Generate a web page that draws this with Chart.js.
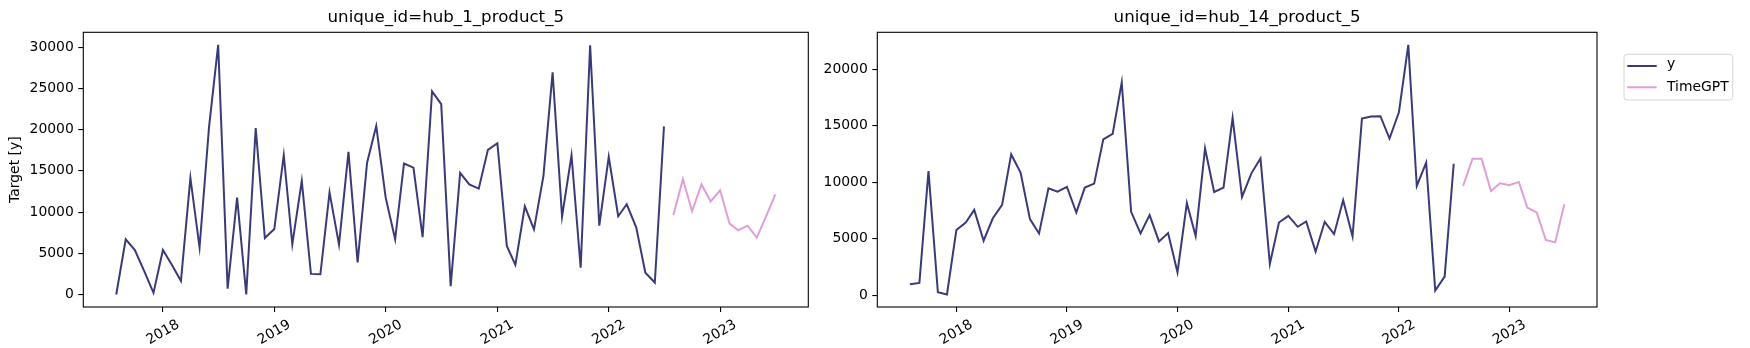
<!DOCTYPE html>
<html><head><meta charset="utf-8">
<script src="https://cdn.jsdelivr.net/npm/chart.js@4.4.0/dist/chart.umd.min.js"></script>
<style>
html,body{margin:0;padding:0;background:#fff;width:1750px;height:348px;overflow:hidden}
canvas{position:absolute;top:0}
#c1{left:0}
#c2{left:812px}
</style></head><body>
<canvas id="c1" width="840" height="348"></canvas>
<canvas id="c2" width="938" height="348"></canvas>
<script>
// ---- data ----
const historyMonths = [
 '2017-08','2017-09','2017-10','2017-11','2017-12',
 '2018-01','2018-02','2018-03','2018-04','2018-05','2018-06','2018-07','2018-08','2018-09','2018-10','2018-11','2018-12',
 '2019-01','2019-02','2019-03','2019-04','2019-05','2019-06','2019-07','2019-08','2019-09','2019-10','2019-11','2019-12',
 '2020-01','2020-02','2020-03','2020-04','2020-05','2020-06','2020-07','2020-08','2020-09','2020-10','2020-11','2020-12',
 '2021-01','2021-02','2021-03','2021-04','2021-05','2021-06','2021-07','2021-08','2021-09','2021-10','2021-11','2021-12',
 '2022-01','2022-02','2022-03','2022-04','2022-05','2022-06','2022-07'
];
const forecastMonths = [
 '2022-08','2022-09','2022-10','2022-11','2022-12',
 '2023-01','2023-02','2023-03','2023-04','2023-05','2023-06','2023-07'
];
const yearLabels = ['2018','2019','2020','2021','2022','2023'];
const hub1YTicks = [0, 5000, 10000, 15000, 20000, 25000, 30000];
const hub14YTicks = [0, 5000, 10000, 15000, 20000];

const hub1Actual = [
 0, 6700, 5400, 2800, 200,
 5400, 3500, 1650, 14150, 5700, 20300, 30300, 700, 11750, 0, 20200, 6850,
 7950, 16900, 6100, 13800, 2500, 2450, 12400, 6050, 17300, 3900, 16000, 20450,
 11750, 6700, 15900, 15400, 6950, 24650, 23100, 1000, 14750, 13350, 12850, 17550,
 18350, 5900, 3600, 10700, 7900, 14400, 26950, 9450, 16900, 3250, 30250, 8350,
 16700, 9500, 10950, 8150, 2650, 1450, 20400
];
const hub1Forecast = [9650, 14000, 10100, 13350, 11300, 12650, 8600, 7800, 8350, 6900, 9500, 12150];

const hub14Actual = [
 970, 1090, 10980, 260, 60,
 5760, 6430, 7550, 4820, 6780, 7990, 12450, 10840, 6730, 5460, 9460, 9160,
 9580, 7310, 9520, 9870, 13780, 14270, 18830, 7370, 5460, 7080, 4760, 5490,
 2030, 8140, 5230, 12980, 9130, 9520, 15680, 8690, 10780, 12100, 2760, 6430,
 7020, 6050, 6520, 3850, 6490, 5400, 8400, 5200, 15630, 15800, 15830, 13860,
 16180, 22150, 9660, 11720, 410, 1650, 11630
];
const hub14Forecast = [9660, 12070, 12070, 9220, 9900, 9720, 10020, 7750, 7310, 4880, 4670, 8050];

const seriesNames = ['y', 'TimeGPT'];
const seriesColors = ['#393b79', '#de9ed6'];

// ---- helpers ----
const FONT = 'DejaVu Sans';
const toTs = s => { const [y, m] = s.split('-'); return Date.UTC(+y, +m - 1, 1); };

const framePlugin = {
  id: 'frame',
  afterDraw(chart) {
    const a = chart.chartArea, ctx = chart.ctx;
    ctx.save();
    ctx.strokeStyle = '#000';
    ctx.lineWidth = 1.1;
    ctx.strokeRect(a.left, a.top, a.right - a.left, a.bottom - a.top);
    // rotated x tick labels, centered on the tick (matplotlib style)
    const xs = chart.scales.x;
    ctx.fillStyle = '#000';
    ctx.font = '13.9px "' + FONT + '"';
    ctx.textAlign = 'center';
    ctx.textBaseline = 'middle';
    xs.ticks.forEach((t, i) => {
      const px = xs.getPixelForValue(t.value);
      ctx.save();
      ctx.translate(px, a.bottom + 25.5);
      ctx.rotate(-Math.PI / 6);
      ctx.fillText(yearLabels[i], 0, 0);
      ctx.restore();
    });
    ctx.restore();
  }
};

const legendPlugin = {
  id: 'customLegend',
  afterDraw(chart, args, opts) {
    if (!opts.show) return;
    const ctx = chart.ctx;
    const x0 = opts.x, y0 = opts.y, w = 108.7, h = 45.7;
    ctx.save();
    ctx.beginPath();
    ctx.roundRect(x0, y0, w, h, 3);
    ctx.fillStyle = 'rgba(255,255,255,0.8)';
    ctx.fill();
    ctx.strokeStyle = '#d6d6d6';
    ctx.lineWidth = 1;
    ctx.stroke();
    ctx.font = '13.9px "' + FONT + '"';
    ctx.textAlign = 'left';
    ctx.textBaseline = 'middle';
    const rows = [y0 + 11.7, y0 + 33];
    chart.data.datasets.forEach((ds, i) => {
      ctx.strokeStyle = ds.borderColor;
      ctx.lineWidth = 2;
      ctx.beginPath();
      ctx.moveTo(x0 + 3.3, rows[i]);
      ctx.lineTo(x0 + 32.7, rows[i]);
      ctx.stroke();
      ctx.fillStyle = '#000';
      ctx.fillText(ds.label, x0 + 43, rows[i] - (i === 0 ? 1.5 : 0));
    });
    ctx.restore();
  }
};

function makeChart(id, title, actual, forecast, yTicks, yWidth, padRight, yTitle, legend) {
  const all = actual.concat(forecast);
  const vMin = Math.min(...all), vMax = Math.max(...all);
  const vPad = (vMax - vMin) * 0.05;
  const tMin = toTs(historyMonths[0]), tMax = toTs(forecastMonths[forecastMonths.length - 1]);
  const tPad = (tMax - tMin) * 0.05;
  const yearTicks = yearLabels.map(y => Date.UTC(+y, 0, 1));

  return new Chart(document.getElementById(id), {
    type: 'line',
    data: {
      datasets: [
        { label: seriesNames[0], data: historyMonths.map((m, i) => ({ x: toTs(m), y: actual[i] })),
          borderColor: seriesColors[0], backgroundColor: seriesColors[0], borderWidth: 2, pointRadius: 0, tension: 0, fill: false },
        { label: seriesNames[1], data: forecastMonths.map((m, i) => ({ x: toTs(m), y: forecast[i] })),
          borderColor: seriesColors[1], backgroundColor: seriesColors[1], borderWidth: 2, pointRadius: 0, tension: 0, fill: false }
      ]
    },
    options: {
      responsive: false,
      animation: false,
      events: [],
      layout: { padding: { left: 0, right: padRight, top: 0, bottom: 0 } },
      plugins: {
        legend: { display: false },
        tooltip: { enabled: false },
        title: {
          display: true, text: title, fullSize: false, color: '#000',
          font: { family: FONT, size: 16.67, weight: 'normal', lineHeight: 1.2 },
          padding: { top: 8, bottom: 4.3 }
        },
        customLegend: legend
      },
      scales: {
        x: {
          type: 'linear',
          min: tMin - tPad, max: tMax + tPad,
          afterBuildTicks: s => { s.ticks = yearTicks.map(v => ({ value: v })); },
          afterFit: s => { s.height = 41; },
          border: { display: false },
          grid: { display: true, drawOnChartArea: false, drawTicks: true, tickLength: 5, color: '#000', lineWidth: 1.1 },
          ticks: { display: false }
        },
        y: {
          type: 'linear',
          min: vMin - vPad, max: vMax + vPad,
          afterBuildTicks: s => { s.ticks = yTicks.map(v => ({ value: v })); },
          afterFit: s => { s.width = yWidth; },
          border: { display: false },
          grid: { display: true, drawOnChartArea: false, drawTicks: true, tickLength: 5, color: '#000', lineWidth: 1.1 },
          ticks: {
            autoSkip: false, color: '#000', padding: 4.5,
            font: { family: FONT, size: 13.9 },
            callback: v => String(v)
          },
          title: {
            display: yTitle, text: 'Target [y]', color: '#000',
            font: { family: FONT, size: 13.9 }, padding: { top: 7, bottom: 0 }
          }
        }
      }
    },
    plugins: [framePlugin, legendPlugin]
  });
}

makeChart('c1', 'unique_id=hub_1_product_5', hub1Actual, hub1Forecast, hub1YTicks, 83.3, 31.7, true, { show: false });
makeChart('c2', 'unique_id=hub_14_product_5', hub14Actual, hub14Forecast, hub14YTicks, 65.3, 153, false, { show: true, x: 812, y: 54.3 });
</script>
</body></html>
